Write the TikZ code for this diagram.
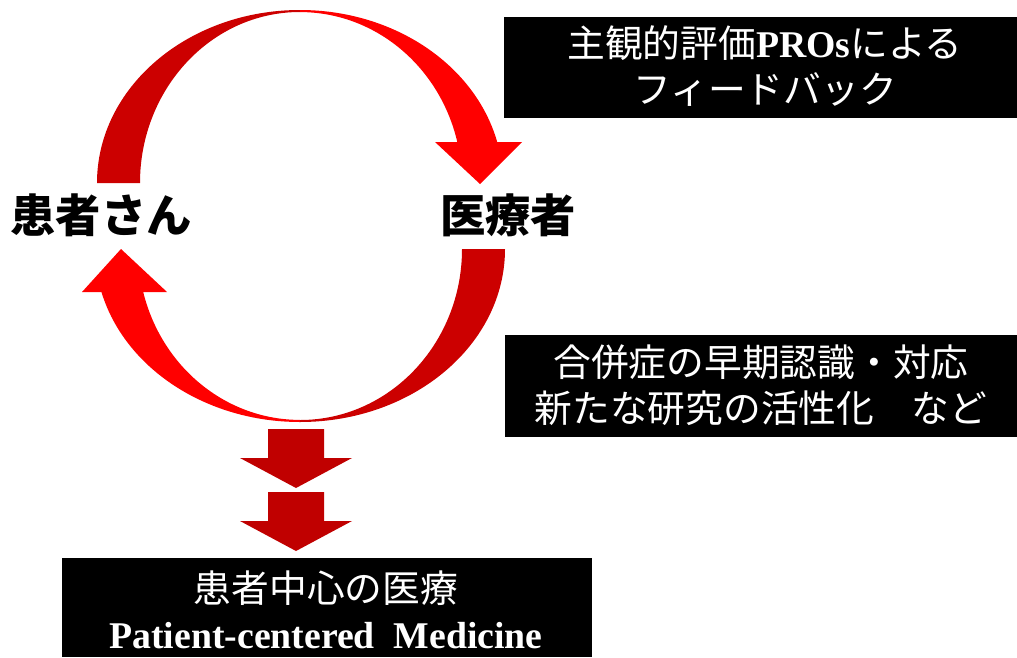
\documentclass[tikz,border=0pt]{standalone}
\usepackage{fontspec}
\setmainfont{Liberation Serif}
\newfontfamily\jp{Noto Sans CJK JP}
\definecolor{darkred}{HTML}{CC0000}
\definecolor{brightred}{HTML}{FF0000}
\definecolor{downred}{HTML}{C00000}
\tikzset{
  lbl/.style={font=\jp\bfseries\fontsize{34}{38}\selectfont, text=black, inner sep=0pt},
  boxtext/.style={font=\fontsize{28.3}{34.5}\selectfont, text=white, align=center, inner sep=0pt},
  blackbox/.style={fill=black},
}
\begin{document}
\begin{tikzpicture}[x=0.75pt,y=-0.75pt]
\useasboundingbox (0,0) rectangle (1017,657);
% upper arc: left half (dark), right half (bright) with arrow head
\fill[darkred] (97,183) arc[start angle=180,end angle=270,x radius=203,y radius=173]
  -- (300,12) arc[start angle=270,end angle=180,x radius=160,y radius=171] -- cycle;
\fill[brightred] (300,10) arc[start angle=270,end angle=346.3,x radius=203,y radius=173]
  -- (522,142) -- (480,184) -- (435,142)
  -- (457.3,142) arc[start angle=346.1,end angle=270,x radius=162,y radius=171] -- cycle;
% lower arc: right half (dark), left half (bright) with arrow head
\fill[darkred] (505,249) arc[start angle=0,end angle=90,x radius=205,y radius=173]
  -- (300,420) arc[start angle=90,end angle=0,x radius=162,y radius=171] -- cycle;
\fill[brightred] (300,422) arc[start angle=90,end angle=165.6,x radius=205,y radius=173]
  -- (82,292) -- (121,249) -- (167,292)
  -- (143.2,292) arc[start angle=165.4,end angle=90,x radius=162,y radius=171] -- cycle;
% down arrows
\fill[downred] (268,429) -- (324,429) -- (324,458) -- (352,458) -- (296,488) -- (240,458) -- (268,458) -- cycle;
\fill[downred] (268,492) -- (324,492) -- (324,521) -- (352,521) -- (296,551) -- (240,521) -- (268,521) -- cycle;
% labels
\node[lbl] (patient) at (101,215) {患者さん};
\node[lbl] (doctor) at (508,215) {医療者};
% black boxes
\fill[blackbox] (504,17) rectangle (1017,118);
\node[boxtext] (feedback) at (765,66) {{\jp 主観的評価}{\bfseries PROs}{\jp による}\\{\jp フィードバック}};
\fill[blackbox] (505,335) rectangle (1017,437);
\node[boxtext] (effects) at (761,385) {{\jp 合併症の早期認識・対応}\\{\jp 新たな研究の活性化　など}};
\fill[blackbox] (62,558) rectangle (592,657);
\node[boxtext] (pcm) at (326,610) {{\jp 患者中心の医療}\\{\bfseries Patient-centered\ \ Medicine}};
\end{tikzpicture}
\end{document}
